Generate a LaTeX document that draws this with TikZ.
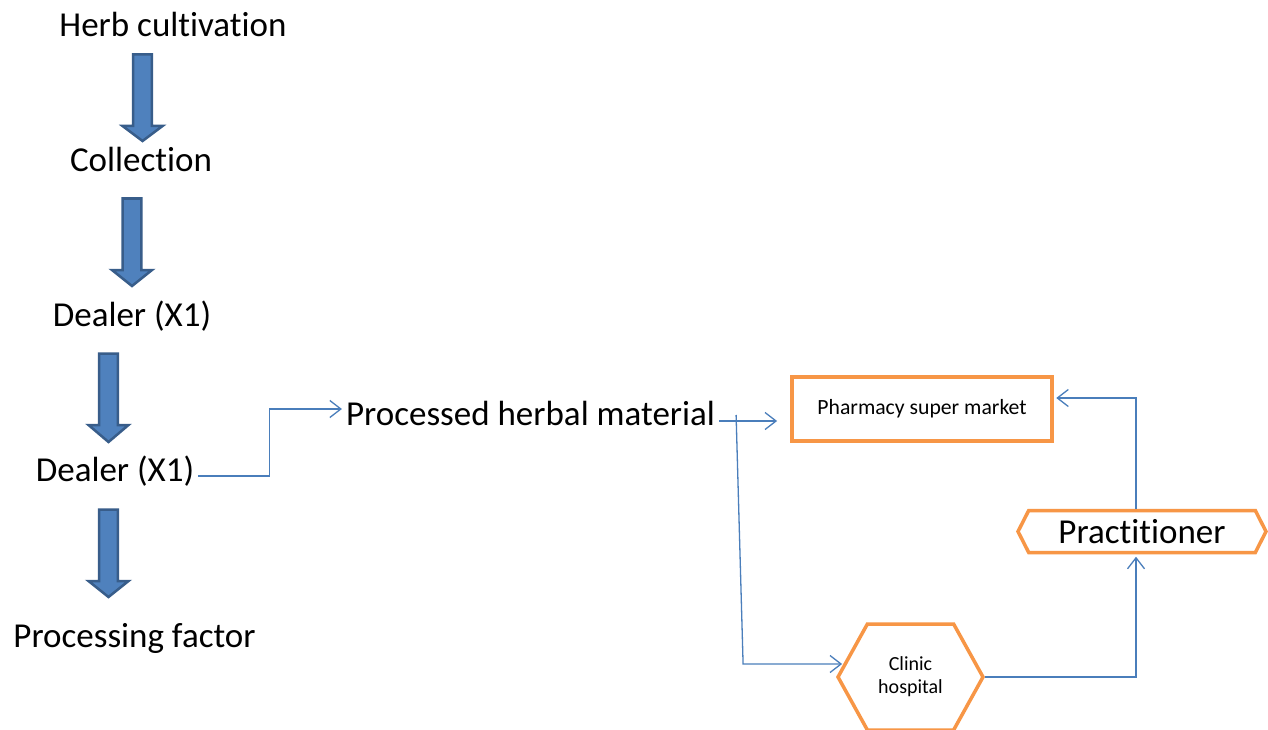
\documentclass[tikz,border=0pt]{standalone}
\usepackage{fontspec}
\setmainfont{Carlito}[Ligatures={NoCommon,NoContextual}]
\usetikzlibrary{shapes.symbols,arrows.meta}
\definecolor{orng}{HTML}{F79646}
\definecolor{lnblue}{HTML}{4A7EBB}
\definecolor{arfill}{HTML}{4F81BD}
\definecolor{ardraw}{HTML}{385D8A}
\tikzset{
  big/.style={font=\fontsize{35}{42}\selectfont, inner sep=0pt, anchor=base},
  conn/.style={draw=lnblue, line width=1.3pt, -{Straight Barb[length=11pt,width=17pt,line width=1.3pt]}},
  obox/.style={draw=orng, line width=3.5pt, fill=white, inner sep=0pt},
  hexa/.style={obox, signal, signal to=west and east},
  blockarr/.style={fill=arfill, draw=ardraw, line width=2.5pt, line join=miter},
}
\newcommand\blockarrow[4]{%
  \draw[blockarr] (#1-9.3,#2) -- (#1+9.3,#2) -- (#1+9.3,#3) -- (#1+20,#3) -- (#1,#4) -- (#1-20,#3) -- (#1-9.3,#3) -- cycle;}
\begin{document}
\begin{tikzpicture}[x=1pt,y=-1pt]
\useasboundingbox (0,0) rectangle (1268,730);
\fill[white] (0,0) rectangle (1268,730);

% left column
\node[big] (herb) at (173,37) {Herb cultivation};
\node[big] (coll) at (141,171.5) {Collection};
\node[big] (deal1) at (132,326) {Dealer (X1)};
\node[big] (deal2) at (115,481) {Dealer (X1)};
\node[big] (proc) at (134.5,647) {Processing factor};

\blockarrow{142.5}{54.5}{126}{141}
\blockarrow{132}{198.5}{270}{286}
\blockarrow{108.5}{353.5}{425}{442}
\blockarrow{108.5}{509.5}{581}{597}

% middle
\node[big] (mat) at (530.5,425) {Processed herbal material};

% right side
\node[obox, minimum width=260pt, minimum height=64pt, font=\fontsize{21.7}{26}\selectfont] (pharm) at (922,409) {Pharmacy super market};
\node[hexa, signal pointer angle=122, minimum width=145pt, minimum height=106pt, align=center, font=\fontsize{20}{23}\selectfont] (clinic) at (910.5,677) {Clinic\\hospital};
\node[hexa, signal pointer angle=126, minimum width=248pt, minimum height=42pt, font=\fontsize{35}{42}\selectfont] (prac) at (1142,531.5) {Practitioner};

% connectors
\draw[conn] ([shift={(4,-5)}]deal2.base east) -- ++(71,0) |- ([shift={(-4,-16)}]mat.base west);
\draw[conn] ([shift={(4,-4)}]mat.base east) -- ++(58,0);
\draw[conn] ([shift={(21,-10)}]mat.base east) -- ++(7,249) -- ++(99,0);
\draw[conn, shorten >=2.5pt] (clinic.east) -- ([xshift=-6pt]prac.south |- clinic.east) -- ([xshift=-6pt]prac.south);
\draw[conn, shorten >=2.5pt] ([xshift=-6pt]prac.north) |- ([yshift=11pt]pharm.east);
\end{tikzpicture}
\end{document}
